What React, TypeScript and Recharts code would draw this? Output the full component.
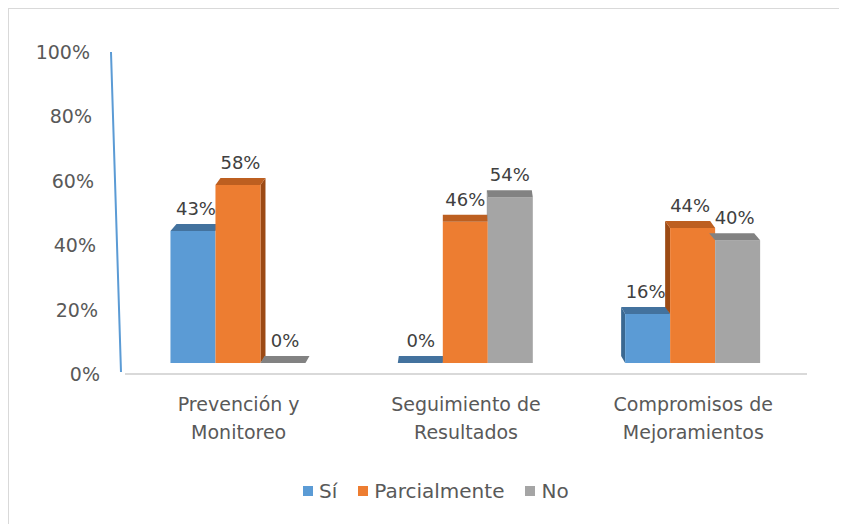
import { Bar, ComposedChart, LabelList, Line, XAxis, YAxis } from "recharts";

const CATEGORIES = ["Prevención y\nMonitoreo", "Seguimiento de\nResultados", "Compromisos de\nMejoramientos"];
const SI = [0.43, 0, 0.16];
const PARCIAL = [0.58, 0.46, 0.44];
const NO = [0, 0.54, 0.4];
const Y_TICKS = [0, 0.2, 0.4, 0.6, 0.8, 1];

const SERIES = [
  { key: "si", name: "Sí", values: SI, front: "#5B9BD5", top: "#43729E", side: "#3A6891" },
  { key: "parcial", name: "Parcialmente", values: PARCIAL, front: "#ED7D31", top: "#BD5F20", side: "#9C4A14" },
  { key: "no", name: "No", values: NO, front: "#A5A5A5", top: "#828282", side: "#8C8C8C" },
];

const data = CATEGORIES.map((category, i) => ({
  category,
  si: SI[i],
  parcial: PARCIAL[i],
  no: NO[i],
}));

// layout
const W = 838;
const H = 515;
const MARGIN = { top: 43, right: 40, bottom: 70, left: 56 };
const Y_W = 60;
const PLOT_LEFT = MARGIN.left + Y_W;
const PLOT_W = W - PLOT_LEFT - MARGIN.right;
const PLOT_H = 322;
const PLOT_CX = PLOT_LEFT + PLOT_W / 2;
const SKEW = 0.022;
const DEPTH = 7;
const FONT = "'DejaVu Sans', sans-serif";

function make3DShape(si: number) {
  return (props: any) => {
    const { x, y, width, height, index } = props;
    const s = SERIES[si];
    const value = s.values[index];
    const base = y + height;
    const dx = (PLOT_CX - (x + width / 2)) * SKEW;
    const dy = DEPTH;
    let side = null;
    if (value > 0) {
      const ppu = height / value;
      const nIdx = dx > 0 ? si + 1 : si - 1;
      const nVal = nIdx >= 0 && nIdx < SERIES.length ? SERIES[nIdx].values[index] : 0;
      if (nVal < value) {
        const fx = dx > 0 ? x + width : x;
        const yb = base - nVal * ppu;
        side = (
          <polygon
            points={`${fx},${y} ${fx + dx},${y - dy} ${fx + dx},${yb - dy} ${fx},${yb}`}
            fill={s.side}
          />
        );
      }
    }
    return (
      <g>
        {side}
        {height > 0 && <rect x={x} y={y} width={width} height={height} fill={s.front} />}
        <polygon
          points={`${x},${y} ${x + width},${y} ${x + width + dx},${y - dy} ${x + dx},${y - dy}`}
          fill={s.top}
        />
      </g>
    );
  };
}

function ValueLabel(props: any) {
  const { x, y, width, value } = props;
  const dx = (PLOT_CX - (x + width / 2)) * SKEW;
  return (
    <text x={x + width / 2 + dx / 2} y={y - 16} textAnchor="middle" fill="#404040" fontSize={18} fontFamily={FONT}>
      {`${Math.round(value * 100)}%`}
    </text>
  );
}

function YTick(props: any) {
  const { y, payload } = props;
  const v = payload.value;
  const tx = PLOT_LEFT - 35 + (1 - v) * 10;
  return (
    <g>
      {v === 0 && (
        <line
          x1={PLOT_LEFT - 4}
          y1={y - 2}
          x2={PLOT_LEFT - 14}
          y2={y - PLOT_H}
          stroke="#5B9BD5"
          strokeWidth={2}
        />
      )}
      <text x={tx} y={y + 7} textAnchor="end" fill="#595959" fontSize={19} fontFamily={FONT}>
        {`${Math.round(v * 100)}%`}
      </text>
    </g>
  );
}

function XTick(props: any) {
  const { x, y, payload } = props;
  const lines = String(payload.value).split("\n");
  return (
    <text x={x} y={y} textAnchor="middle" fill="#595959" fontSize={19} fontFamily={FONT}>
      {lines.map((l, i) => (
        <tspan key={i} x={x} y={y + 37 + i * 28}>
          {l}
        </tspan>
      ))}
    </text>
  );
}

export default function App() {
  return (
    <div
      style={{
        position: "relative",
        width: W,
        height: H,
        borderTop: "1px solid #d9d9d9",
        borderLeft: "1px solid #d9d9d9",
        background: "#fff",
        fontFamily: FONT,
      }}
    >
      <ComposedChart width={W} height={H} data={data} margin={MARGIN} barCategoryGap="20%" barGap={0}>
        <XAxis
          dataKey="category"
          axisLine={{ stroke: "#d9d9d9", strokeWidth: 2 }}
          tickLine={false}
          tickSize={0}
          tickMargin={0}
          height={80}
          tick={<XTick />}
          interval={0}
        />
        <YAxis
          yAxisId="pct"
          domain={[0, 1]}
          ticks={Y_TICKS}
          width={Y_W}
          axisLine={false}
          tickLine={false}
          tick={<YTick />}
          allowDataOverflow
        />
        <YAxis yAxisId="bars" domain={[-0.0358, 1.013]} hide allowDataOverflow />
        {/* invisible series so the percentage axis gets drawn */}
        <Line
          yAxisId="pct"
          dataKey="si"
          stroke="none"
          dot={false}
          activeDot={false}
          legendType="none"
          isAnimationActive={false}
        />
        {SERIES.map((s, i) => (
          <Bar
            key={s.key}
            yAxisId="bars"
            dataKey={s.key}
            name={s.name}
            fill={s.front}
            isAnimationActive={false}
            shape={make3DShape(i)}
          >
            <LabelList dataKey={s.key} content={<ValueLabel />} />
          </Bar>
        ))}
      </ComposedChart>
      <div
        style={{
          position: "absolute",
          left: 294,
          top: 470,
          height: 24,
          display: "flex",
          alignItems: "center",
          fontSize: 20,
          color: "#595959",
          whiteSpace: "nowrap",
        }}
      >
        {SERIES.map((s, i) => (
          <div key={s.key} style={{ display: "flex", alignItems: "center", marginRight: i < SERIES.length - 1 ? 21 : 0 }}>
            <span style={{ width: 10, height: 10, background: s.front, display: "inline-block", marginRight: 6 }} />
            <span>{s.name}</span>
          </div>
        ))}
      </div>
    </div>
  );
}
